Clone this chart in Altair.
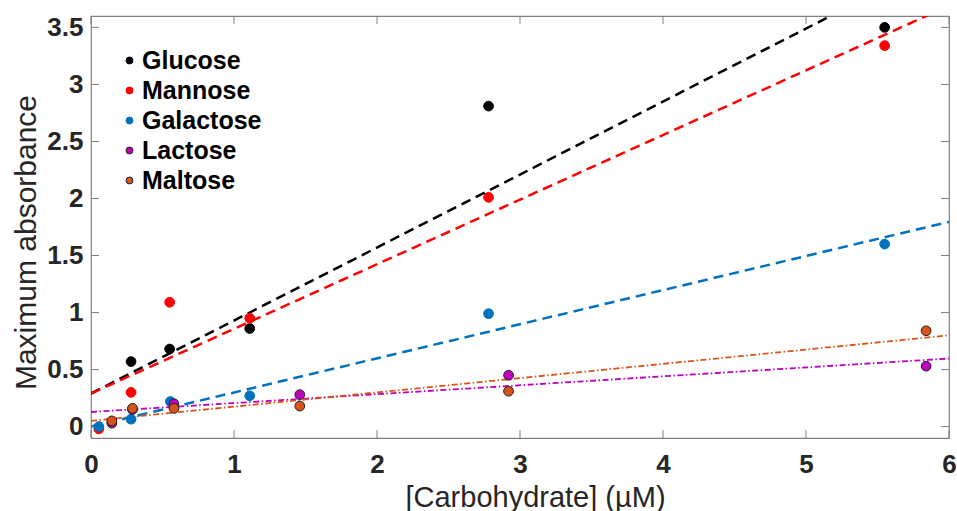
import altair as alt
import pandas as pd

# ---------------- data ----------------
series_names = ["Glucose", "Mannose", "Galactose", "Lactose", "Maltose"]
series_colors = ["#000000", "#FF0000", "#0072BD", "#BF00BF", "#D95319"]
edge_colors = ["#000000", "#FF0000", "#0072BD", "#222222", "#222222"]
line_dashes = [[10, 6], [10, 6], [10, 6], [6, 2.5, 1.5, 2.5], [6, 2.5, 1.5, 2.5]]
line_widths = [2.5, 2.5, 2.5, 1.8, 1.8]

glucose_x = [0.28, 0.55, 1.11, 2.78, 5.55]
glucose_y = [0.57, 0.68, 0.86, 2.81, 3.50]

mannose_x = [0.055, 0.28, 0.55, 1.11, 2.78, 5.55]
mannose_y = [-0.02, 0.30, 1.09, 0.95, 2.01, 3.34]

galactose_x = [0.055, 0.28, 0.555, 1.11, 2.78, 5.55]
galactose_y = [0.00, 0.065, 0.22, 0.27, 0.99, 1.60]

lactose_x = [0.146, 0.29, 0.58, 1.46, 2.92, 5.84]
lactose_y = [0.03, 0.15, 0.20, 0.28, 0.45, 0.53]

maltose_x = [0.146, 0.29, 0.58, 1.46, 2.92, 5.84]
maltose_y = [0.05, 0.16, 0.16, 0.18, 0.31, 0.84]

# fitted lines: value at x=0 and at x=6
fit_x = [0, 6]
fit_y0 = [0.29, 0.29, 0.00, 0.128, 0.05]
fit_y6 = [4.13, 3.69, 1.795, 0.597, 0.80]

xtick_values = [0, 1, 2, 3, 4, 5, 6]
ytick_values = [0, 0.5, 1, 1.5, 2, 2.5, 3, 3.5]

# ---------------- tables ----------------
pts = []
for name, xs, ys in [
    ("Glucose", glucose_x, glucose_y),
    ("Mannose", mannose_x, mannose_y),
    ("Galactose", galactose_x, galactose_y),
    ("Lactose", lactose_x, lactose_y),
    ("Maltose", maltose_x, maltose_y),
]:
    for xv, yv in zip(xs, ys):
        pts.append({"series": name, "x": xv, "y": yv, "ord": series_names.index(name)})
pts_df = pd.DataFrame(pts)

W, H = 858, 422
FONT = "Liberation Sans"
GRAY = "#808080"

xscale = alt.Scale(domain=[0, 6], nice=False, zero=False)
yscale = alt.Scale(domain=[-0.1, 3.6], nice=False, zero=False)

x_axis = alt.Axis(
    values=xtick_values, title="[Carbohydrate] (µM)", grid=False, domain=False,
    ticks=False, labelFont=FONT, labelFontSize=26, labelFontWeight="bold",
    labelColor="#262626", labelPadding=13, labelExpr="'' + datum.value",
    titleFont=FONT, titleFontSize=29, titleFontWeight="normal",
    titleColor="#262626", titleY=68, titleX=444, titleAlign="center",
    titleBaseline="alphabetic", labelFlush=False,
)
y_axis = alt.Axis(
    values=ytick_values, title="Maximum absorbance", grid=False, domain=False,
    ticks=False, labelFont=FONT, labelFontSize=26, labelFontWeight="bold",
    labelColor="#262626", labelPadding=8, labelExpr="'' + datum.value",
    titleFont=FONT, titleFontSize=30, titleFontWeight="normal",
    titleColor="#262626", titleX=-56, titleY=226, titleBaseline="alphabetic",
    titleAngle=270, labelFlush=False,
)


def X(field):
    return alt.X(field, scale=xscale, axis=x_axis, title="[Carbohydrate] (µM)")


def Y(field):
    return alt.Y(field, scale=yscale, axis=y_axis, title="Maximum absorbance")


color_scale = alt.Scale(domain=series_names, range=series_colors)
edge_scale = alt.Scale(domain=series_names, range=edge_colors)

line_layers = []
for i, name in enumerate(series_names):
    df = pd.DataFrame({"x": fit_x, "y": [fit_y0[i], fit_y6[i]]})
    line_layers.append(
        alt.Chart(df).mark_line(
            color=series_colors[i], strokeWidth=line_widths[i],
            strokeDash=line_dashes[i], clip=True
        ).encode(x=X("x:Q"), y=Y("y:Q"))
    )

legend = alt.Legend(
    orient="none", legendX=26, legendY=32, title=None, padding=0,
    labelFont=FONT, labelFontSize=25, labelFontWeight="bold", labelColor="#000000",
    symbolSize=48, symbolType="circle", symbolStrokeWidth=1, labelOffset=0,
    rowPadding=4,
)

points = alt.Chart(pts_df).mark_point(
    filled=True, size=95, opacity=1, strokeWidth=1, clip=True
).encode(
    x=X("x:Q"),
    y=Y("y:Q"),
    fill=alt.Fill("series:N", scale=color_scale, legend=legend),
    stroke=alt.Stroke("series:N", scale=edge_scale, legend=legend),
    order=alt.Order("ord:Q"),
)

yt_df = pd.DataFrame({"y": ytick_values})
xt_df = pd.DataFrame({"x": xtick_values})
TL = 8
ytick_left = alt.Chart(yt_df).mark_rule(color=GRAY, strokeWidth=1).encode(
    y=Y("y:Q"), x=alt.value(0), x2=alt.value(TL))
ytick_right = alt.Chart(yt_df).mark_rule(color=GRAY, strokeWidth=1).encode(
    y=Y("y:Q"), x=alt.value(W - TL), x2=alt.value(W))
xtick_bottom = alt.Chart(xt_df).mark_rule(color=GRAY, strokeWidth=1).encode(
    x=X("x:Q"), y=alt.value(H), y2=alt.value(H - TL))
xtick_top = alt.Chart(xt_df).mark_rule(color=GRAY, strokeWidth=1).encode(
    x=X("x:Q"), y=alt.value(0), y2=alt.value(TL))

chart = alt.layer(
    *line_layers, ytick_left, ytick_right, xtick_bottom, xtick_top, points
).properties(
    width=W, height=H,
    autosize=alt.AutoSizeParams(type="none"),
    padding={"left": 91, "top": 16, "right": 8, "bottom": 73},
    background="white",
).configure_view(
    stroke=GRAY, strokeWidth=1.2
)

chart.save("out.html", embed_options={"renderer": "svg", "actions": False})
